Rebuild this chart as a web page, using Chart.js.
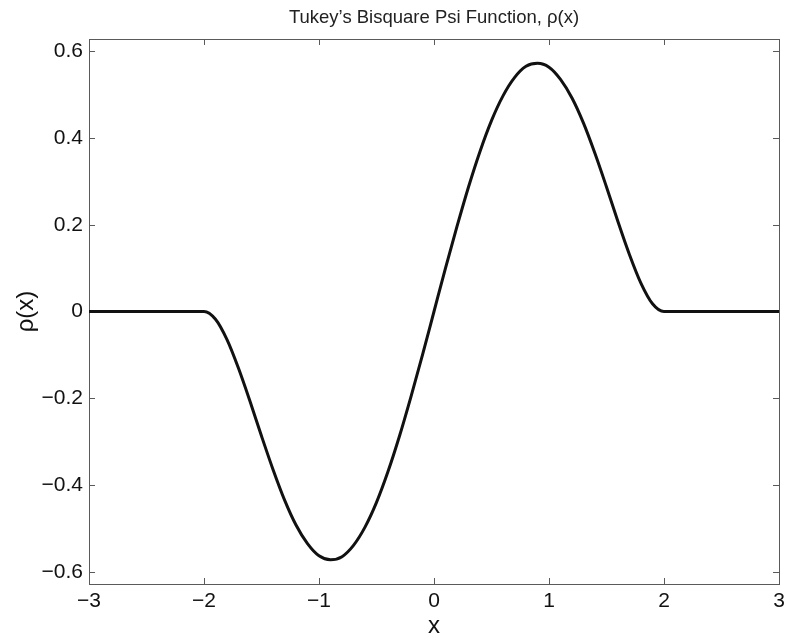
<!DOCTYPE html>
<html>
<head>
<meta charset="utf-8">
<script src="https://cdn.jsdelivr.net/npm/chart.js@4/dist/chart.umd.min.js"></script>
<style>
  html, body { margin: 0; padding: 0; background: #fff; }
  #wrap { width: 786px; height: 641px; }
</style>
</head>
<body>
<div id="wrap"><canvas id="myChart" width="786" height="641"></canvas></div>
<script>
// values
var xVals = [-3.0, -2.9, -2.8, -2.7, -2.6, -2.5, -2.4, -2.3, -2.2, -2.1,
             -2.0, -1.9, -1.8, -1.7, -1.6, -1.5, -1.4, -1.3, -1.2, -1.1,
             -1.0, -0.9, -0.8, -0.7, -0.6, -0.5, -0.4, -0.3, -0.2, -0.1,
              0.0,  0.1,  0.2,  0.3,  0.4,  0.5,  0.6,  0.7,  0.8,  0.9,
              1.0,  1.1,  1.2,  1.3,  1.4,  1.5,  1.6,  1.7,  1.8,  1.9,
              2.0,  2.1,  2.2,  2.3,  2.4,  2.5,  2.6,  2.7,  2.8,  2.9, 3.0]
var psiVals = [0, 0, 0, 0, 0, 0, 0, 0, 0, 0,
               0, -0.018, -0.065, -0.131, -0.207, -0.287, -0.364, -0.434, -0.492, -0.535,
               -0.563, -0.572, -0.565, -0.539, -0.497, -0.440, -0.369, -0.287, -0.196, -0.100,
               0, 0.100, 0.196, 0.287, 0.369, 0.440, 0.497, 0.539, 0.565, 0.572,
               0.563, 0.535, 0.492, 0.434, 0.364, 0.287, 0.207, 0.131, 0.065, 0.018,
               0, 0, 0, 0, 0, 0, 0, 0, 0, 0, 0]
var xTicks = [-3, -2, -1, 0, 1, 2, 3]
var yTicks = [-0.6, -0.4, -0.2, 0, 0.2, 0.4, 0.6]
var titleText = 'Tukey\u2019s Bisquare Psi Function, \u03c1(x)'

var FONT = "'Liberation Sans', Arial, Helvetica, sans-serif"

function minus(s) { return String(s).replace('-', '\u2212') }

// matlab style box, ticks pointing inward, title centred over the axes
var boxPlugin = {
    id: 'box',
    beforeDatasetsDraw(chart) {
        let ctx = chart.ctx, a = chart.chartArea
        let sx = chart.scales.x, sy = chart.scales.y
        let len = 6
        ctx.save()
        ctx.strokeStyle = '#5a5a5a'
        ctx.lineWidth = 1
        ctx.beginPath()
        sx.ticks.forEach(function (t) {
            let px = Math.round(sx.getPixelForValue(t.value)) + 0.5
            ctx.moveTo(px, a.bottom); ctx.lineTo(px, a.bottom - len)
            ctx.moveTo(px, a.top); ctx.lineTo(px, a.top + len)
        })
        sy.ticks.forEach(function (t) {
            let py = Math.round(sy.getPixelForValue(t.value)) + 0.5
            ctx.moveTo(a.left, py); ctx.lineTo(a.left + len, py)
            ctx.moveTo(a.right, py); ctx.lineTo(a.right - len, py)
        })
        ctx.stroke()
        ctx.strokeRect(Math.round(a.left) + 0.5, Math.round(a.top) + 0.5,
            Math.round(a.right - a.left), Math.round(a.bottom - a.top))

        ctx.fillStyle = '#222'
        ctx.font = '18.5px ' + FONT
        ctx.textAlign = 'center'
        ctx.textBaseline = 'middle'
        ctx.fillText(titleText, (a.left + a.right) / 2, 18)
        ctx.restore()
    }
}

let ctx = document.getElementById('myChart').getContext('2d')
let myChart = new Chart(ctx, {
    type: 'line',
    data: {
        datasets: [{
            label: 'psi',
            data: xVals.map((x, i) => ({ x: x, y: psiVals[i] })),
            borderColor: '#111',
            borderWidth: 3,
            pointRadius: 0,
            fill: false,
            cubicInterpolationMode: 'monotone'
        }]
    },
    options: {
        responsive: false,
        animation: false,
        layout: { padding: { left: 0, right: 7, top: 39, bottom: 0 } },
        plugins: {
            legend: { display: false },
            tooltip: { enabled: false },
            title: { display: false }
        },
        scales: {
            x: {
                type: 'linear',
                min: -3,
                max: 3,
                grid: { display: false, drawTicks: false },
                border: { display: false },
                afterBuildTicks: (s) => { s.ticks = xTicks.map(v => ({ value: v })) },
                afterFit: (s) => { s.height = 57; s.paddingLeft = 0; s.paddingRight = 0 },
                ticks: {
                    color: '#111',
                    padding: 5,
                    maxRotation: 0,
                    font: { family: FONT, size: 21 },
                    callback: (v) => minus(v)
                },
                title: {
                    display: true,
                    text: 'x',
                    color: '#111',
                    font: { family: FONT, size: 24 },
                    padding: { top: 0, bottom: 0 }
                }
            },
            y: {
                min: -0.628,
                max: 0.628,
                grid: { display: false, drawTicks: false },
                border: { display: false },
                afterBuildTicks: (s) => { s.ticks = yTicks.map(v => ({ value: v })) },
                afterFit: (s) => { s.width = 89; s.paddingTop = 0; s.paddingBottom = 0 },
                ticks: {
                    color: '#111',
                    padding: 6,
                    font: { family: FONT, size: 21 },
                    callback: (v) => v === 0 ? '0' : minus(v.toFixed(1))
                },
                title: {
                    display: true,
                    text: '\u03c1(x)',
                    color: '#111',
                    font: { family: FONT, size: 24 },
                    padding: { top: 12, bottom: 0 }
                }
            }
        }
    },
    plugins: [boxPlugin]
})
</script>
</body>
</html>
